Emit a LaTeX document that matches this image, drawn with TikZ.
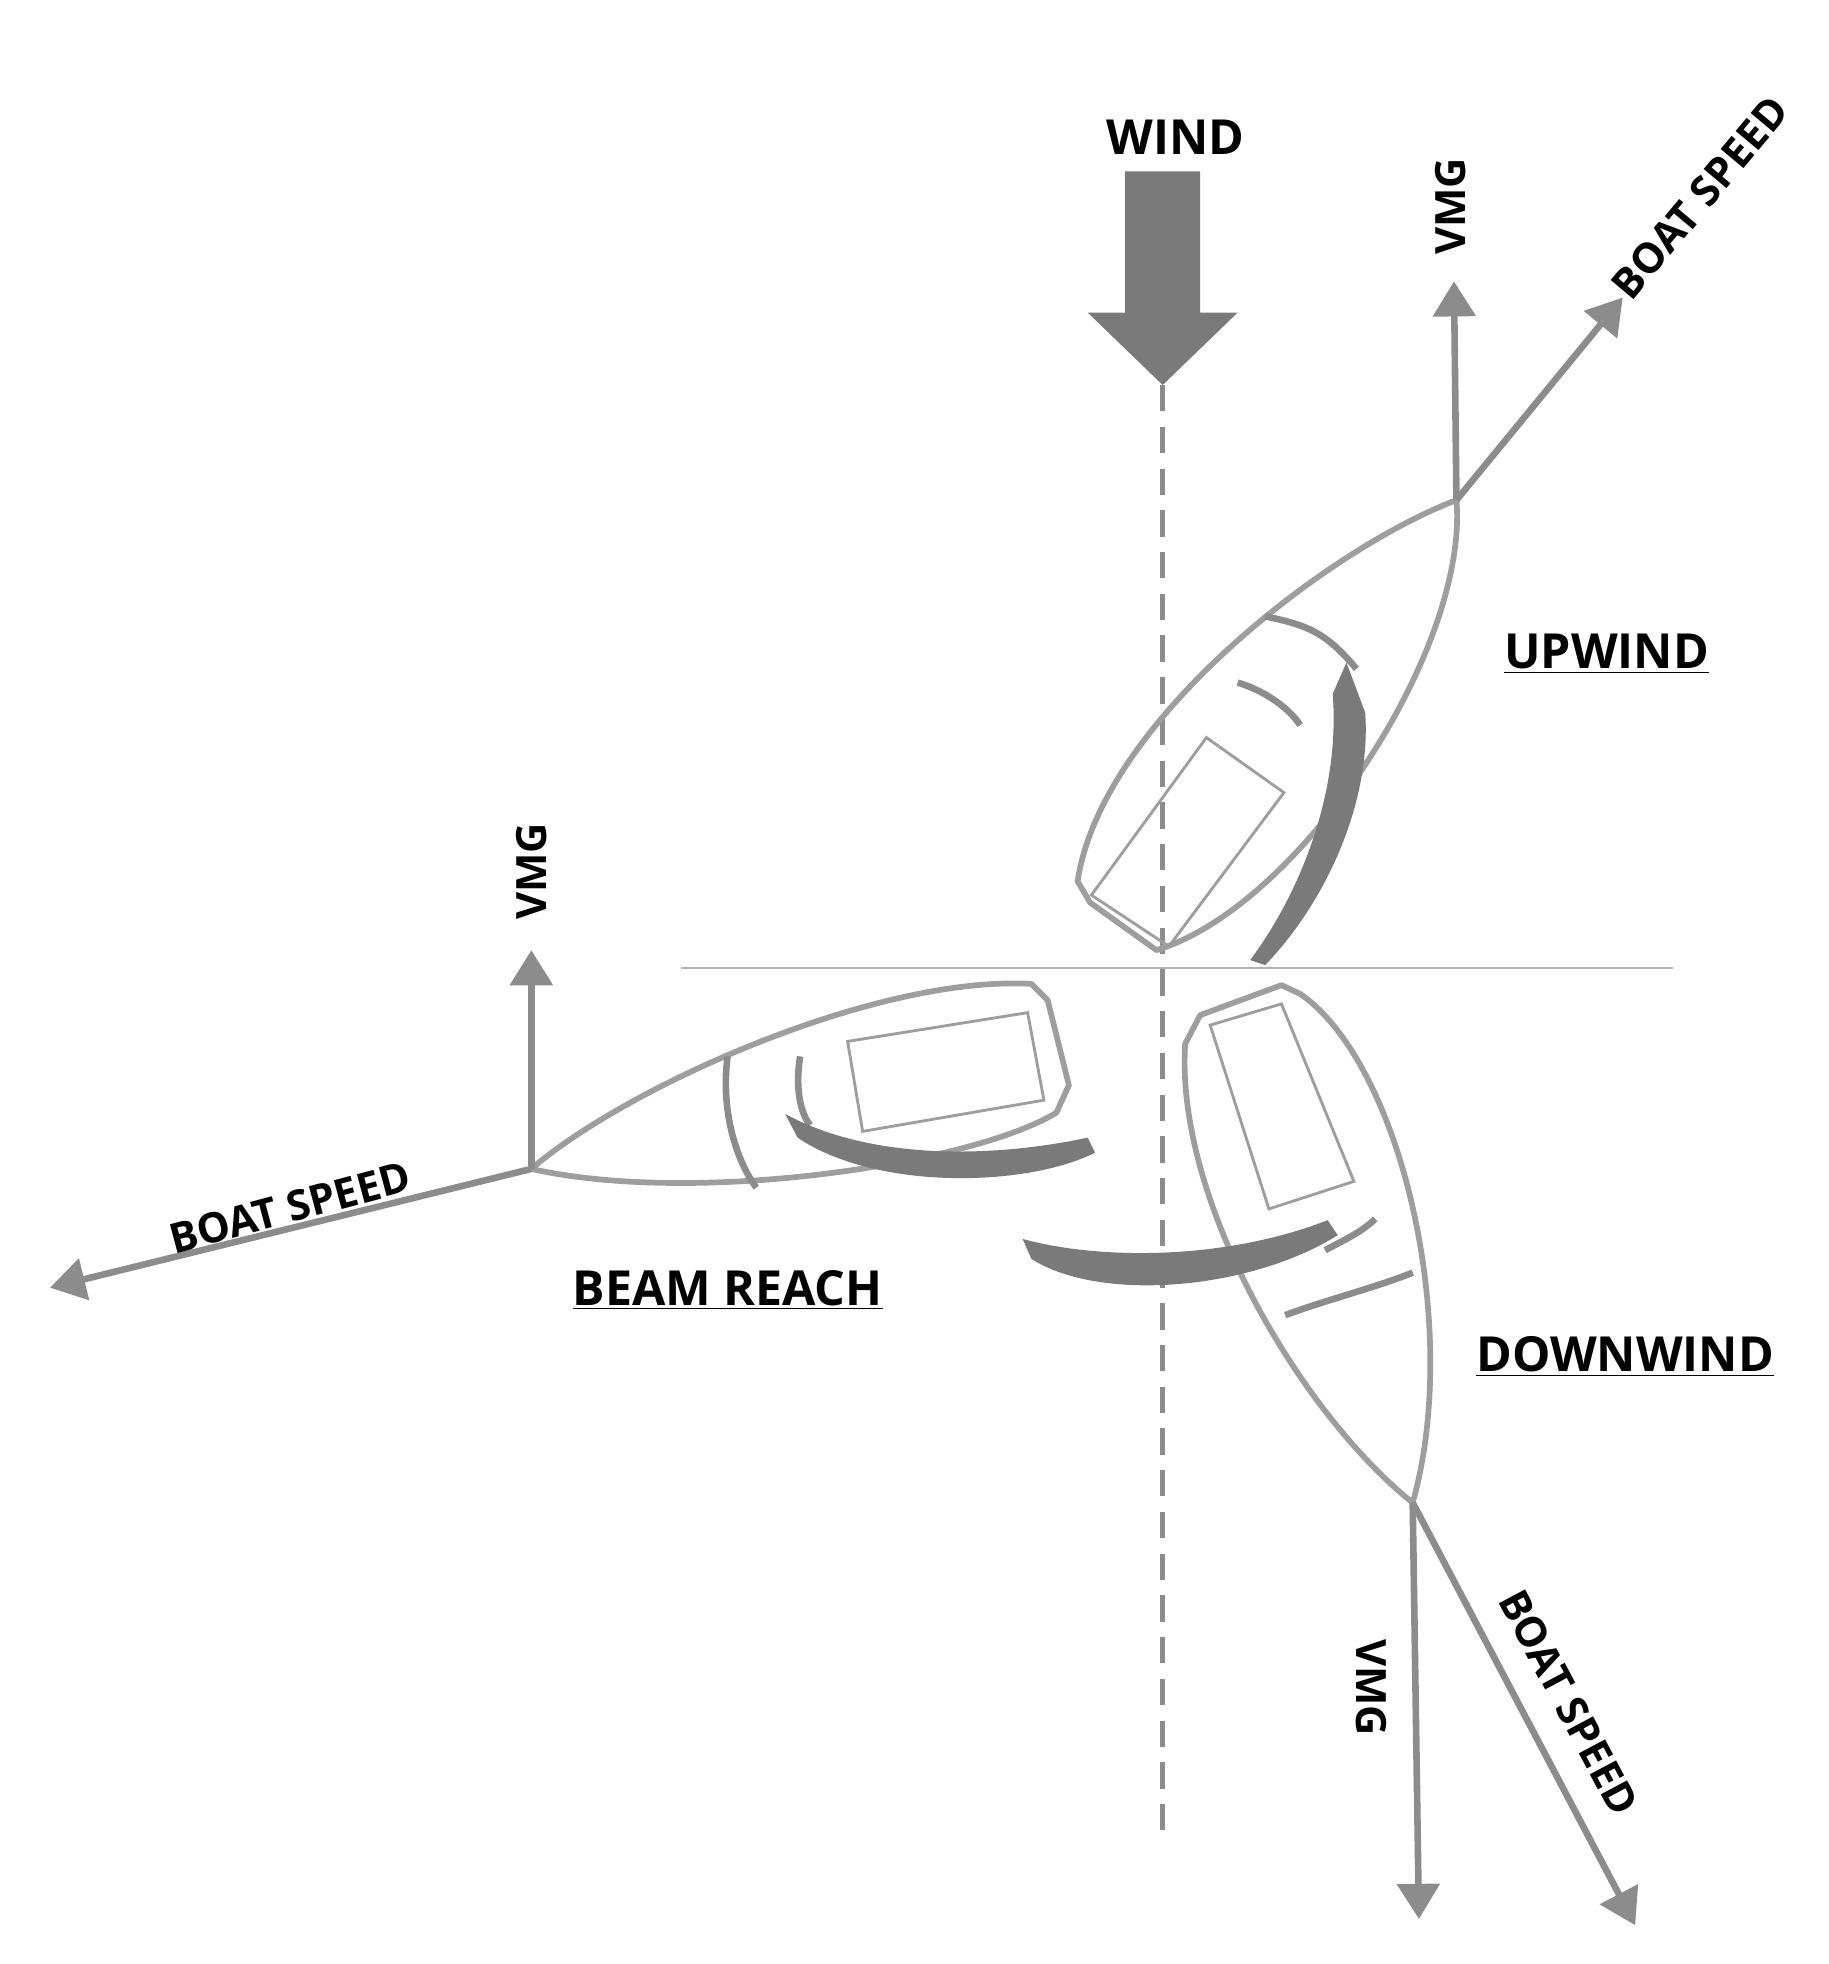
\documentclass[tikz,border=0pt]{standalone}
\usepackage{fontspec}
\setmainfont{Open Sans}
\usetikzlibrary{arrows.meta}
\begin{document}
\begin{tikzpicture}[x=0.02cm,y=-0.02cm,
  hull/.style={draw=black!38,line width=2.6pt,line join=round},
  thin/.style={draw=black!38,line width=1.3pt},
  vec/.style={draw=black!45,line width=3pt,-{Triangle[length=16pt,width=19pt]}},
  lab/.style={font=\fontsize{19}{20}\selectfont\bfseries},
  big/.style={font=\fontsize{22}{24}\selectfont\bfseries},
  ul/.style={big,inner sep=1pt}]
\useasboundingbox (0,0) rectangle (1463,1571);
% wind
\node[big] (wind) at (940,110) {WIND};
\fill[black!52] (900,137) -- (960,137) -- (960,250) -- (990,250) -- (930,308) -- (870,250) -- (900,250) -- cycle;
\coordinate (wtip) at (930,308);
\coordinate (wend) at (930,1465);
\draw[black!45,line width=2.4pt,dash pattern=on 12pt off 7pt] (wtip) -- (wend);
\coordinate (hl) at (545,774); \coordinate (hr) at (1338,774);
\draw[black!30,line width=0.9pt] (hl) -- (hr);
% upwind boat
\coordinate (ub) at (1165,400);
\draw[hull] (ub) .. controls (1060,440) and (880,580) .. (862,705) -- (872,722) -- (925,760) .. controls (1040,725) and (1175,520) .. (ub);
\draw[thin] (873,716) -- (965,590) -- (1027,634) -- (935,757) -- cycle;
\draw[black!45,line width=3pt] (1012,493) .. controls (1045,500) and (1060,505) .. (1085,535);
\draw[black!45,line width=3pt] (990,546) .. controls (1010,552) and (1030,565) .. (1040,580);
\fill[black!52] (1077,530) -- (1092,570) .. controls (1097,640) and (1062,720) .. (1012,772) -- (1000,768) .. controls (1043,710) and (1072,630) .. (1066,555) -- cycle;
\coordinate (uv) at (1163,225); \coordinate (us) at (1298,238);
\draw[vec] (ub) -- (uv);
\draw[vec] (ub) -- (us);
\node[lab,rotate=90] at (1160,165) {VMG};
\node[lab,rotate=50] at (1360,158) {BOAT SPEED};
\node[ul] (up) at (1285,523) {\underline{UPWIND}};
% beam reach
\coordinate (bb) at (425,935);
\draw[hull] (bb) .. controls (500,870) and (700,780) .. (825,787) -- (838,800) -- (855,868) -- (845,890) .. controls (780,930) and (560,965) .. (bb);
\draw[thin] (678,833) -- (822,810) -- (835,880) -- (690,905) -- cycle;
\draw[black!45,line width=3pt] (582,845) .. controls (576,890) and (590,930) .. (605,950);
\draw[black!45,line width=3pt] (640,845) .. controls (636,870) and (640,890) .. (648,900);
\fill[black!52] (628,891) .. controls (700,930) and (800,925) .. (870,910) -- (876,922) .. controls (820,950) and (700,952) .. (638,910) -- cycle;
\coordinate (bv) at (425,760); \coordinate (bs) at (40,1030);
\draw[vec] (bb) -- (bv);
\draw[vec] (bb) -- (bs);
\node[lab,rotate=90] at (425,697) {VMG};
\node[lab,rotate=15] at (232,966) {BOAT SPEED};
\node[ul] (br) at (582,1032) {\underline{BEAM REACH}};
% downwind
\coordinate (db) at (1130,1202);
\draw[hull] (db) .. controls (1040,1130) and (940,960) .. (948,835) -- (960,812) -- (1025,788) -- (1040,795) .. controls (1120,850) and (1170,1060) .. (db);
\draw[thin] (968,820) -- (1025,803) -- (1083,945) -- (1015,967) -- cycle;
\draw[black!45,line width=3pt] (1028,1052) .. controls (1060,1040) and (1100,1030) .. (1130,1018);
\draw[black!45,line width=3pt] (1060,1000) .. controls (1075,992) and (1090,985) .. (1100,975);
\fill[black!52] (818,991) .. controls (880,1008) and (980,1008) .. (1062,976) -- (1070,988) .. controls (1000,1032) and (880,1042) .. (825,1007) -- cycle;
\coordinate (dv) at (1135,1535); \coordinate (ds) at (1308,1540);
\draw[vec] (db) -- (dv);
\draw[vec] (db) -- (ds);
\node[lab,rotate=-90] at (1097,1350) {VMG};
\node[lab,rotate=-62] at (1255,1362) {BOAT SPEED};
\node[ul] (dw) at (1300,1085) {\underline{DOWNWIND}};
\end{tikzpicture}
\end{document}
